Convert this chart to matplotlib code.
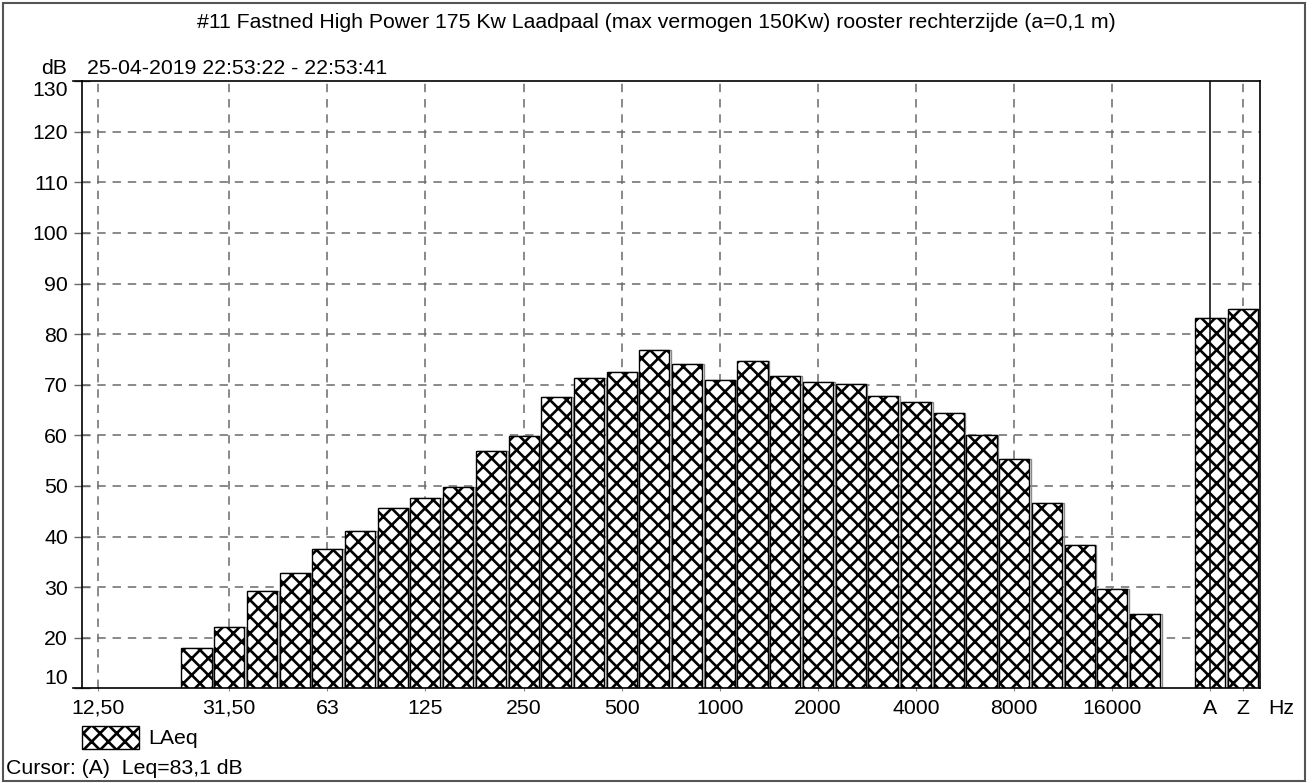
import numpy as np
import matplotlib
matplotlib.use("Agg")
import matplotlib.pyplot as plt
from matplotlib.patches import Rectangle
from matplotlib.lines import Line2D

nan = np.nan
bands = ["12.5", "16", "20", "25", "31.5", "40", "50", "63", "80", "100", "125",
         "160", "200", "250", "315", "400", "500", "630", "800", "1000", "1250",
         "1600", "2000", "2500", "3150", "4000", "5000", "6300", "8000", "10000",
         "12500", "16000", "20000", "", "A", "Z"]
laeq = [nan, nan, nan, 18.0, 22.1, 29.2, 32.8, 37.6, 41.0, 45.6, 47.7,
        49.7, 56.9, 59.8, 67.6, 71.4, 72.6, 76.9, 74.1, 70.9, 74.7,
        71.7, 70.5, 70.2, 67.8, 66.6, 64.5, 60.1, 55.3, 46.6,
        38.3, 29.6, 24.7, nan, 83.1, 85.0]
tick_bands = ["12.5", "31.5", "63", "125", "250", "500", "1000", "2000",
              "4000", "8000", "16000", "A", "Z"]
tick_text = ["12,50", "31,50", "63", "125", "250", "500", "1000", "2000",
             "4000", "8000", "16000", "A", "Z"]
y_ticks = [10, 20, 30, 40, 50, 60, 70, 80, 90, 100, 110, 120, 130]

title = "#11 Fastned High Power 175 Kw Laadpaal (max vermogen 150Kw) rooster rechterzijde (a=0,1 m)"
period = "25-04-2019 22:53:22 - 22:53:41"
cursor_text = "Cursor: (A)  Leq=83,1 dB"
cursor_band = "A"

plt.rcParams["font.family"] = ["Liberation Sans", "DejaVu Sans"]
plt.rcParams["hatch.linewidth"] = 1.9
FS = 15.3

W, H = 1313, 783
fig = plt.figure(figsize=(W / 100, H / 100), dpi=100)
fig.patch.set_facecolor("white")

def fx(px):
    return px / W

def fy(py):
    return 1 - py / H

ax = fig.add_axes([fx(82), fy(688.3), fx(1259.5) - fx(82), fy(80.7) - fy(688.3)])
x = np.arange(len(bands))
ax.set_xlim(-0.5, len(bands) - 0.5)
ax.set_ylim(10, 130.1)

grid_kw = dict(color="#6a6a6a", lw=1.1, dashes=(5.5, 4.5), zorder=1)
for yv in y_ticks[1:-1]:
    ax.axhline(yv, **grid_kw)
tick_pos = [bands.index(b) for b in tick_bands]
for b, p in zip(tick_bands, tick_pos):
    if b != cursor_band:
        ax.axvline(p, **grid_kw)

vals = np.array(laeq, dtype=float)
ax.bar(x + 0.05, vals, width=0.92, facecolor="none", edgecolor="#8a8a8a",
       linewidth=1.0, zorder=2)
ax.bar(x, vals, width=0.92, facecolor="white", edgecolor="black",
       linewidth=1.0, hatch="xx", zorder=3)

# cursor line
ax.axvline(bands.index(cursor_band), color="black", lw=1.1, zorder=4)

for s in ["top", "bottom", "left", "right"]:
    ax.spines[s].set_linewidth(1.2)
    ax.spines[s].set_color("black")
    ax.spines[s].set_zorder(5)

ax.set_xticks(tick_pos)
ax.set_xticklabels(tick_text, fontsize=FS)
ax.tick_params(axis="x", direction="inout", length=5, color="#8a8a8a", pad=5)
ax.set_yticks(y_ticks)
ax.set_yticklabels([str(v) for v in y_ticks], fontsize=FS)
ax.tick_params(axis="y", direction="inout", length=12, width=1, color="#6a6a6a", pad=4)
ylabels = ax.get_yticklabels()
ylabels[0].set_va("bottom")
ylabels[-1].set_va("top")

# extended top / bottom lines to the left
ext = -0.5 - 9 / 32.7
for yv in (10, 130.1):
    ax.add_line(Line2D([ext, -0.5], [yv, yv], color="black", lw=1.2, clip_on=False))

# texts
fig.text(fx(656), fy(22), title, fontsize=FS, ha="center", va="center")
fig.text(fx(54), fy(68), "dB", fontsize=FS, ha="center", va="center")
fig.text(fx(87), fy(68), period, fontsize=FS, ha="left", va="center")
fig.text(fx(1281), fy(708), "Hz", fontsize=FS, ha="center", va="center")
fig.text(fx(6), fy(768), cursor_text, fontsize=FS, ha="left", va="center")
fig.text(fx(148), fy(738), "LAeq", fontsize=FS, ha="left", va="center")

# legend swatch
fig.add_artist(Rectangle((fx(82), fy(749)), fx(139) - fx(82), fy(726) - fy(749),
                         transform=fig.transFigure, facecolor="white",
                         edgecolor="black", lw=1.0, hatch="xx"))

# outer frame
fig.add_artist(Rectangle((fx(2.5), fy(781)), fx(1305) - fx(2.5), fy(2.5) - fy(781),
                         transform=fig.transFigure, facecolor="none",
                         edgecolor="#555555", lw=1.5))

fig.savefig("out.png", dpi=100)
